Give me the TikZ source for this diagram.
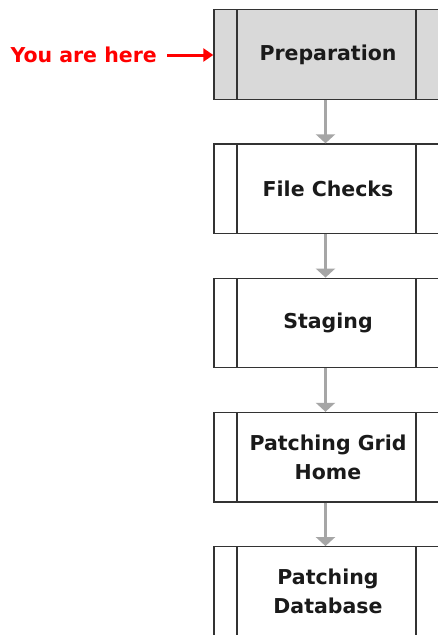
\documentclass[tikz,border=0pt]{standalone}
\usepackage{fontspec}
\setmainfont{DejaVu Sans}
\usetikzlibrary{arrows.meta}
\definecolor{framegray}{HTML}{333333}
\definecolor{stepgray}{HTML}{D9D9D9}
\definecolor{linkgray}{HTML}{A6A6A6}
\definecolor{herered}{HTML}{FF0000}
\definecolor{labelink}{HTML}{1A1A1A}
\begin{document}
\begin{tikzpicture}[x=1pt,y=-1pt,
  procbox/.style={draw=framegray, line width=1.4pt, fill=white,
    minimum width=228pt, minimum height=89.5pt, inner sep=0pt,
    align=center, text=labelink,
    font=\fontsize{20.5}{29}\selectfont\bfseries,
    path picture={
      \draw[framegray, line width=1.4pt]
        ([xshift=23pt]path picture bounding box.north west) --
        ([xshift=23pt]path picture bounding box.south west);
      \draw[framegray, line width=1.4pt]
        ([xshift=-26pt]path picture bounding box.north east) --
        ([xshift=-26pt]path picture bounding box.south east);
    }},
  link/.style={draw=linkgray, line width=2.6pt,
    -{Triangle[width=19pt,length=9pt]}, linkgray}]
\useasboundingbox (0,0) rectangle (438,635);
\clip (0,0) rectangle (438,635);
\fill[white] (0,0) rectangle (438,635);

\node[procbox, fill=stepgray] (prep)  at (328, 54.5)  {Preparation};
\node[procbox] (check) at (328, 188.75) {File Checks};
\node[procbox] (stage) at (328, 323)    {Staging};
\node[procbox] (grid)  at (328, 457.25) {Patching Grid\\Home};
\node[procbox] (db)    at (328, 591.5)  {Patching\\Database};

\draw[link] ([xshift=-2.5pt]prep.south)  -- ([xshift=-2.5pt]check.north);
\draw[link] ([xshift=-2.5pt]check.south) -- ([xshift=-2.5pt]stage.north);
\draw[link] ([xshift=-2.5pt]stage.south) -- ([xshift=-2.5pt]grid.north);
\draw[link] ([xshift=-2.5pt]grid.south)  -- ([xshift=-2.5pt]db.north);

\node[anchor=east, inner sep=0pt, text=herered,
  font=\fontsize{20.5}{24}\selectfont\bfseries] (here) at (157, 55) {You are here};
\draw[herered, line width=3pt, shorten <=10pt,
  -{Triangle[width=13pt,length=10pt]}] (here.east) -- (prep.west |- here.east);
\end{tikzpicture}
\end{document}
